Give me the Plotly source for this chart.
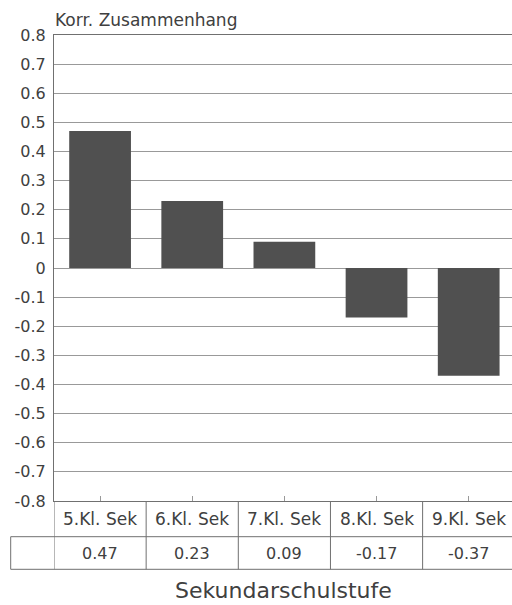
import plotly.graph_objects as go

# ---- data ----
categories = ["5.Kl. Sek", "6.Kl. Sek", "7.Kl. Sek", "8.Kl. Sek", "9.Kl. Sek"]
values = [0.47, 0.23, 0.09, -0.17, -0.37]
y_tick_values = [0.8, 0.7, 0.6, 0.5, 0.4, 0.3, 0.2, 0.1, 0.0,
                 -0.1, -0.2, -0.3, -0.4, -0.5, -0.6, -0.7, -0.8]
y_tick_labels = ["0.8", "0.7", "0.6", "0.5", "0.4", "0.3", "0.2", "0.1", "0",
                 "-0.1", "-0.2", "-0.3", "-0.4", "-0.5", "-0.6", "-0.7", "-0.8"]
value_labels = ["0.47", "0.23", "0.09", "-0.17", "-0.37"]
y_title = "Korr. Zusammenhang"
x_title = "Sekundarschulstufe"

# ---- style ----
FONT = "DejaVu Sans"
TXT = "#404040"
GRID = "#999999"
LINE = "#707070"
BAR = "#505050"

W, H = 512, 605
L, R, T, B = 54, 0, 35, 104
plot_h = H - T - B
plot_w = W - L - R


def py(pix):
    """pixel row -> paper y"""
    return (H - B - pix) / plot_h


def px(pix):
    return (pix - L) / plot_w


fig = go.Figure()
fig.add_trace(go.Bar(
    x=categories, y=values,
    marker=dict(color=BAR, line=dict(width=0)),
    width=0.67,
    hoverinfo="x+y",
))

shapes = []
row_line = py(536.7)
bottom = py(569.3)
# horizontal table lines
for yy in (row_line, bottom):
    shapes.append(dict(type="line", xref="paper", yref="paper",
                       x0=px(10.7), x1=1, y0=yy, y1=yy,
                       line=dict(color=LINE, width=1)))
# left border of value row
shapes.append(dict(type="line", xref="paper", yref="paper",
                   x0=px(10.7), x1=px(10.7), y0=row_line, y1=bottom,
                   line=dict(color=LINE, width=1)))
# column separators
for i in range(len(categories)):
    shapes.append(dict(type="line", xref="x", yref="paper",
                       x0=i - 0.5, x1=i - 0.5, y0=0, y1=bottom,
                       line=dict(color=LINE, width=1)))

annotations = []
for i, (c, v) in enumerate(zip(categories, value_labels)):
    annotations.append(dict(x=c, xref="x", y=py(519), yref="paper",
                            text=c, showarrow=False,
                            font=dict(family=FONT, size=17, color=TXT),
                            xanchor="center", yanchor="middle"))
    annotations.append(dict(x=c, xref="x", y=py(553), yref="paper",
                            text=v, showarrow=False,
                            font=dict(family=FONT, size=16, color=TXT),
                            xanchor="center", yanchor="middle"))
annotations.append(dict(x=px(53), xref="paper", y=py(20), yref="paper",
                        text=y_title, showarrow=False,
                        font=dict(family=FONT, size=17, color=TXT),
                        xanchor="left", yanchor="middle"))
annotations.append(dict(x=px(283), xref="paper", y=py(590), yref="paper",
                        text=x_title, showarrow=False,
                        font=dict(family=FONT, size=22, color=TXT),
                        xanchor="center", yanchor="middle"))

fig.update_layout(
    width=W, height=H,
    margin=dict(l=L, r=R, t=T, b=B, pad=0),
    paper_bgcolor="white", plot_bgcolor="white",
    showlegend=False,
    bargap=0.33,
    shapes=shapes,
    annotations=annotations,
    font=dict(family=FONT, color=TXT),
)
fig.update_xaxes(
    type="category",
    range=[-0.5, 4.47],
    showticklabels=False,
    ticks="inside", ticklen=5, tickcolor=GRID, tickwidth=1,
    showgrid=False,
    showline=True, linecolor=LINE, linewidth=1, mirror=True,
    zeroline=False,
)
fig.update_yaxes(
    range=[-0.8, 0.8],
    tickvals=y_tick_values, ticktext=y_tick_labels,
    tickfont=dict(family=FONT, size=16, color=TXT),
    ticks="", ticklabelstandoff=4,
    showgrid=True, gridcolor=GRID, gridwidth=1,
    zeroline=True, zerolinecolor=GRID, zerolinewidth=1,
    showline=True, linecolor=LINE, linewidth=1,
)

fig.write_html(
    "out.html",
    config={"displayModeBar": False},
    post_script="document.body.style.margin='0';document.body.style.overflow='hidden';",
)
